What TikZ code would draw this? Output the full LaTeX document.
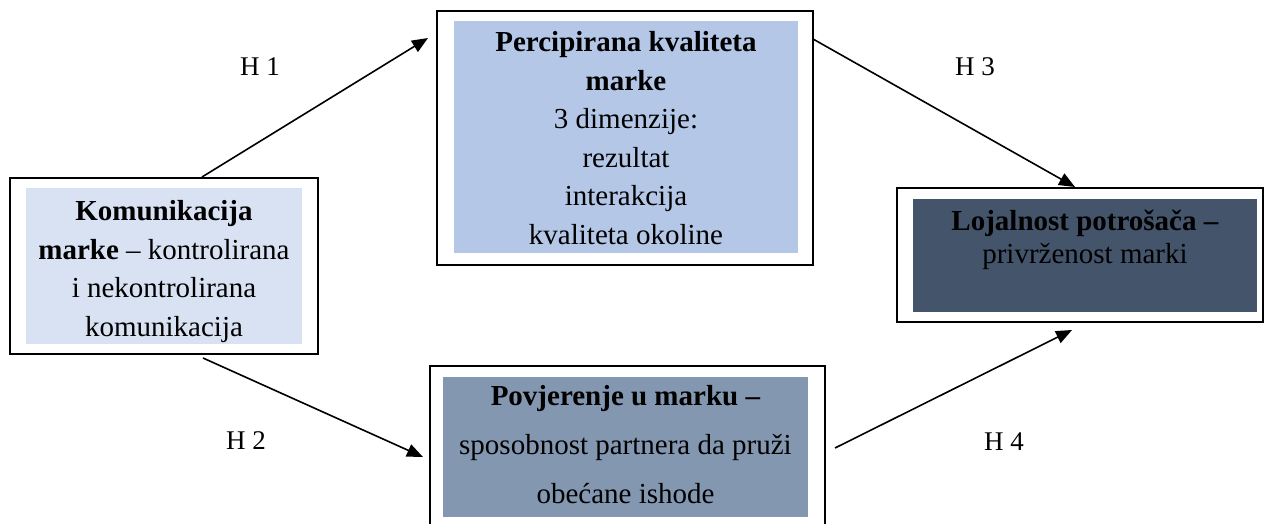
\documentclass[tikz,border=0pt]{standalone}
\usepackage{fontspec}
\setmainfont{Liberation Serif}
\usetikzlibrary{arrows.meta,calc}
\definecolor{fillA}{HTML}{D9E2F3}
\definecolor{fillB}{HTML}{B4C7E7}
\definecolor{fillC}{HTML}{44546A}
\definecolor{fillD}{HTML}{8497B0}
\tikzset{
  outerbox/.style={draw=black, line width=2pt, fill=white, minimum width=#1, inner sep=0pt, outer sep=0pt},
  innerbox/.style={inner sep=0pt, outer sep=0pt, minimum width=#1},
  boxtext/.style={align=center, inner sep=0pt, text=black},
  hyparrow/.style={line width=1.6pt, -{Triangle[length=16pt,width=13pt]}},
  hlabel/.style={inner sep=0pt, font=\fontsize{27}{32}\selectfont}
}
\begin{document}
\begin{tikzpicture}[x=1pt,y=-1pt]
\useasboundingbox (0,0) rectangle (1269,524);
% left box
\node[outerbox=308pt, minimum height=176pt] (L) at (164,266) {};
\node[innerbox=276pt, minimum height=156pt, fill=fillA] (Li) at (164,266) {};
\node[boxtext, font=\fontsize{29}{38.4}\selectfont] (Lt) at (164,271.5)
  {\textbf{Komunikacija}\\\textbf{marke} -- kontrolirana\\i nekontrolirana\\komunikacija};
% top box
\node[outerbox=376pt, minimum height=254pt] (P) at (625,138) {};
\node[innerbox=344pt, minimum height=232pt, fill=fillB] (Pi) at (626,137) {};
\node[boxtext, font=\fontsize{29}{38.6}\selectfont] (Pt) at (626,138)
  {\textbf{Percipirana kvaliteta}\\\textbf{marke}\\3 dimenzije:\\rezultat\\interakcija\\kvaliteta okoline};
% right box
\node[outerbox=366pt, minimum height=134pt] (R) at (1080,255) {};
\node[innerbox=344pt, minimum height=113pt, fill=fillC] (Ri) at (1085,255.5) {};
\node[boxtext, font=\fontsize{29}{33}\selectfont] (Rt) at (1085,240)
  {\textbf{Lojalnost potrošača --}\\privrženost marki};
% bottom box
\node[outerbox=395pt, minimum height=174pt] (B) at (627.5,453) {};
\node[innerbox=365pt, minimum height=140pt, fill=fillD] (Bi) at (625.5,447) {};
\node[boxtext, font=\fontsize{29}{49}\selectfont] (Bt) at (625.5,445)
  {\textbf{Povjerenje u marku --}\\sposobnost partnera da pruži\\obećane ishode};
% arrows
\draw[hyparrow] ($(L.north west)+(192,-1)$) -- ($(P.north west)+(-9,27)$);
\draw[hyparrow] ($(L.south west)+(193,4)$) -- ($(B.north west)+(-7,91)$);
\draw[hyparrow] ($(P.north east)+(0,28)$) -- ($(R.north west)+(178,-1)$);
\draw[hyparrow] ($(B.north east)+(10,82)$) -- ($(R.south west)+(175,8)$);
% labels
\node[hlabel] (h1) at (260,67) {H 1};
\node[hlabel] (h2) at (246,441) {H 2};
\node[hlabel] (h3) at (975,67) {H 3};
\node[hlabel] (h4) at (1004,442) {H 4};
\end{tikzpicture}
\end{document}
